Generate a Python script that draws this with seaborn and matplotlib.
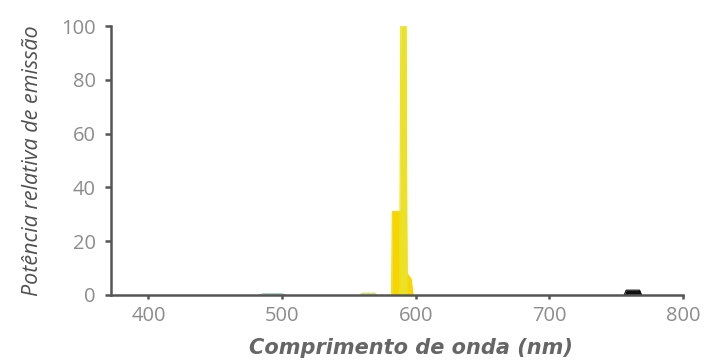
import matplotlib
matplotlib.use("Agg")
import matplotlib.pyplot as plt
import seaborn as sns
import pandas as pd

# Emission features of a low-pressure sodium lamp (wavelength in nm, relative power in %)
na_base_wl = [582.0, 582.5, 593.0, 593.5]
na_base_pw = [0, 31, 31, 0]

na_peak_wl = [588.0, 588.8, 592.8, 593.5]
na_peak_pw = [0, 100, 100, 0]

na_shoulder_wl = [592.5, 593.5, 596.5, 598.0]
na_shoulder_pw = [8, 8, 6, 0]

green_wl = [483, 486, 500, 503]
green_pw = [0, 0.4, 0.4, 0]

yellowgreen_wl = [558, 560, 569, 571]
yellowgreen_pw = [0, 0.7, 0.7, 0]

red_wl = [756, 757.5, 767.5, 769]
red_pw = [0, 1.8, 1.8, 0]

x_ticks = [400, 500, 600, 700, 800]
y_ticks = [0, 20, 40, 60, 80, 100]

features = [
    (green_wl, green_pw, "#7fb5a6"),
    (yellowgreen_wl, yellowgreen_pw, "#cfdc6a"),
    (na_base_wl, na_base_pw, "#f6d500"),
    (na_shoulder_wl, na_shoulder_pw, "#f6d500"),
    (na_peak_wl, na_peak_pw, "#ebe227"),
    (red_wl, red_pw, "#111111"),
]

sns.set_theme(style="white")
plt.rcParams["font.family"] = ["Open Sans", "DejaVu Sans"]

fig = plt.figure(figsize=(7.07, 3.61), dpi=100)
ax = fig.add_axes([111 / 707, 1 - 295 / 361, 572 / 707, 269 / 361])

for wl, pw, color in features:
    df = pd.DataFrame({"wl": wl, "pw": pw})
    sns.lineplot(data=df, x="wl", y="pw", color=color, linewidth=0.8,
                 ax=ax, sort=False, zorder=3)
    ax.fill_between(df["wl"], 0, df["pw"], color=color, linewidth=0, zorder=3)

ax.set_xlim(372, 800)
ax.set_ylim(0, 100)
ax.set_xticks(x_ticks)
ax.set_yticks(y_ticks)

axis_color = "#555555"
for side in ["top", "right"]:
    ax.spines[side].set_visible(False)
for side in ["left", "bottom"]:
    ax.spines[side].set_color(axis_color)
    ax.spines[side].set_linewidth(1.8)
    ax.spines[side].set_zorder(4)

ax.tick_params(axis="y", direction="out", length=4, width=1.8, color=axis_color,
               labelsize=14.5, labelcolor="#8c8c8c", pad=7, left=True)
ax.tick_params(axis="x", direction="out", length=3, width=1.8, color=axis_color,
               labelsize=14.5, labelcolor="#8c8c8c", pad=5, bottom=True)

ax.set_xlabel("Comprimento de onda (nm)", fontsize=15, fontweight="bold",
              fontstyle="italic", color="#666666",
              family=["DejaVu Sans"])
ax.xaxis.set_label_coords(0.525, -0.158)
ax.set_ylabel("Potência relativa de emissão", fontsize=15.5, fontstyle="italic",
              color="#505050")
ax.yaxis.set_label_coords(-0.119, 0.5)

ax.grid(False)
fig.savefig("out.png", dpi=100, facecolor="white")
